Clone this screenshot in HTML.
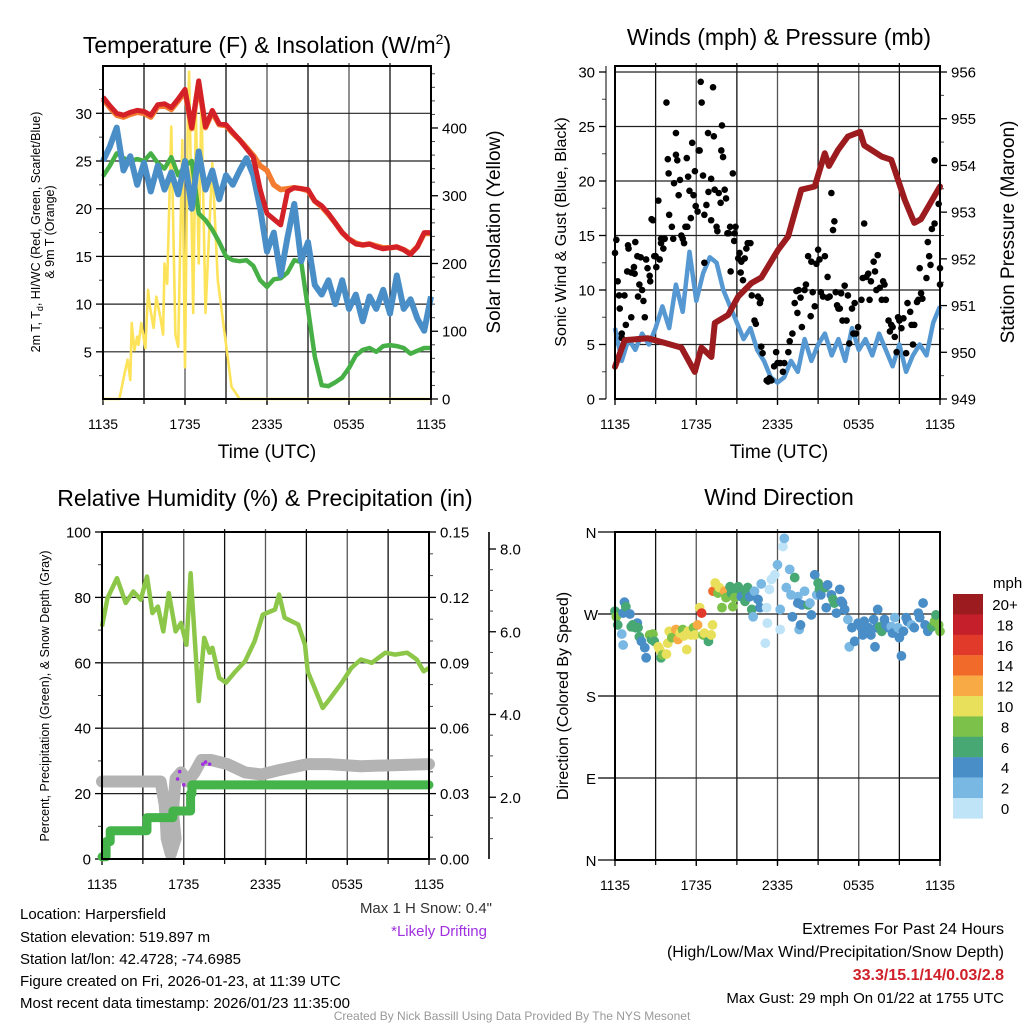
<!DOCTYPE html>
<html><head><meta charset="utf-8"><title>Mesonet Station Summary</title>
<style>
html,body{margin:0;padding:0;background:#fff;}
svg{display:block;font-family:"Liberation Sans",Arial,sans-serif;}
</style></head>
<body>
<svg id="chart" width="1024" height="1024" viewBox="0 0 1024 1024" xmlns="http://www.w3.org/2000/svg">
<rect x="0" y="0" width="1024" height="1024" fill="#fff"/>
<!-- titles -->
<text x="267" y="53" font-size="23" text-anchor="middle">Temperature (F) &amp; Insolation (W/m<tspan font-size="14" dy="-9">2</tspan><tspan dy="9">)</tspan></text>
<text x="779" y="45" font-size="23" text-anchor="middle">Winds (mph) &amp; Pressure (mb)</text>
<text x="265" y="506" font-size="23" text-anchor="middle">Relative Humidity (%) &amp; Precipitation (in)</text>
<text x="779" y="505" font-size="23" text-anchor="middle">Wind Direction</text>
<!-- x axis titles -->
<text x="267" y="458" font-size="19" text-anchor="middle">Time (UTC)</text>
<text x="779" y="458" font-size="19" text-anchor="middle">Time (UTC)</text>
<!-- y axis titles -->
<text transform="translate(40,232) rotate(-90)" font-size="12.5" text-anchor="middle">2m T, T<tspan font-size="9" dy="3">d</tspan><tspan dy="-3">, HI/WC (Red, Green, Scarlet/Blue)</tspan></text>
<text transform="translate(54,232) rotate(-90)" font-size="12.5" text-anchor="middle">&amp; 9m T (Orange)</text>
<text transform="translate(500,232) rotate(-90)" font-size="19" text-anchor="middle">Solar Insolation (Yellow)</text>
<text transform="translate(566,232) rotate(-90)" font-size="16" text-anchor="middle">Sonic Wind &amp; Gust (Blue, Black)</text>
<text transform="translate(1014,232) rotate(-90)" font-size="19" text-anchor="middle">Station Pressure (Maroon)</text>
<text transform="translate(49,696) rotate(-90)" font-size="12.5" text-anchor="middle">Percent, Precipitation (Green), &amp; Snow Depth (Gray)</text>
<text transform="translate(568,696) rotate(-90)" font-size="16" text-anchor="middle">Direction (Colored By Speed)</text>
<g id="layer"></g>
<!-- footer text -->
<g font-size="15">
<text x="20" y="919">Location: Harpersfield</text>
<text x="20" y="942">Station elevation: 519.897 m</text>
<text x="20" y="964">Station lat/lon: 42.4728; -74.6985</text>
<text x="20" y="986">Figure created on Fri, 2026-01-23, at 11:39 UTC</text>
<text x="20" y="1008">Most recent data timestamp: 2026/01/23 11:35:00</text>
</g>
<text x="492" y="913" font-size="15" fill="#333" text-anchor="end">Max 1 H Snow: 0.4"</text>
<text x="487" y="936" font-size="15" fill="#a030e0" text-anchor="end">*Likely Drifting</text>
<text x="1004" y="934" font-size="16" text-anchor="end">Extremes For Past 24 Hours</text>
<text x="1004" y="957" font-size="16" text-anchor="end">(High/Low/Max Wind/Precipitation/Snow Depth)</text>
<text x="1004" y="980" font-size="16" font-weight="bold" fill="#d0202a" text-anchor="end">33.3/15.1/14/0.03/2.8</text>
<text x="1004" y="1003" font-size="15" text-anchor="end">Max Gust: 29 mph On 01/22 at 1755 UTC</text>
<text x="512" y="1020" font-size="12" fill="#999" text-anchor="middle">Created By Nick Bassill Using Data Provided By The NYS Mesonet</text>
</svg>
<script>
// ---------- DATA ----------
const xTickLabels = ["1135","1735","2335","0535","1135"];
const halfHours = [0,0.5,1,1.5,2,2.5,3,3.5,4,4.5,5,5.5,6,6.5,7,7.5,8,8.5,9,9.5,10,10.5,11,11.5,12,12.5,13,13.5,14,14.5,15,15.5,16,16.5,17,17.5,18,18.5,19,19.5,20,20.5,21,21.5,22,22.5,23,23.5,24];
const tempRed = [31.7,30.8,30.0,29.8,30.1,30.3,30.2,29.8,30.9,31.0,30.6,31.5,32.5,28.5,33.4,28.6,30.3,28.9,28.8,28.0,27.2,26.3,25.4,22.0,19.5,18.9,18.3,21.8,22.2,22.1,22.0,20.8,20.3,19.5,18.5,17.5,16.8,16.3,16.2,16.3,16.0,15.8,15.9,16.0,15.7,15.2,16.0,17.5,17.5];
const temp9mOrange = [31.5,30.6,29.8,29.6,29.9,30.1,30.0,29.6,30.7,30.8,30.4,31.3,32.3,28.4,33.2,28.5,30.1,28.8,28.7,27.9,27.2,26.4,25.6,24.5,24.0,22.5,22.0,22.1,22.2,22.1,21.9,20.8,20.2,19.4,18.5,17.5,16.8,16.4,16.2,16.3,16.1,15.9,15.9,16.0,15.7,15.3,16.0,17.4,17.4];
const dewGreen = [23.4,24.5,25.8,25.3,25.0,25.2,25.0,25.8,24.8,24.2,25.4,23.5,24.5,25.0,19.5,18.8,17.8,16.5,15.0,14.6,14.5,14.6,14.0,12.5,11.8,12.6,12.7,13.3,14.6,14.4,9.5,4.5,1.5,1.4,1.8,2.3,3.3,4.6,5.2,5.4,5.0,5.6,5.7,5.6,5.4,4.8,5.1,5.4,5.4];
const windChillBlue = [25.0,26.5,28.5,24.0,25.5,22.5,24.8,21.8,24.5,22.0,23.8,21.5,25.0,20.0,26.0,22.0,24.0,21.0,23.5,22.5,24.0,25.3,23.5,20.0,15.5,17.5,13.0,17.0,20.5,14.5,16.5,12.0,11.0,12.5,10.0,12.5,9.5,11.0,8.2,10.8,9.5,11.5,9.0,13.0,9.5,10.5,8.5,7.2,10.8];
const solarHours = [0,1.2,1.6,1.8,2.0,2.1,2.3,2.5,2.6,2.8,3.1,3.3,3.4,3.7,3.9,4.2,4.4,4.5,4.7,5.0,5.3,5.5,5.8,6.0,6.2,6.3,6.5,6.6,6.8,7.0,7.2,7.5,8.0,8.4,8.9,9.4,10.0,24];
const solarWm2 = [0,0,40,58,28,112,72,92,80,112,75,161,140,105,151,120,95,200,170,402,95,77,382,47,400,483,250,127,426,200,441,127,348,175,97,18,0,0];
const windHours = halfHours;
const sonicWind = [6.5,3.5,5.5,4.5,6.0,5.0,6.5,8.5,6.5,10.5,8.0,13.5,9.0,11.5,13.0,12.5,10.0,8.5,7.0,5.5,6.5,4.5,3.5,2.0,1.5,2.0,3.5,2.5,5.5,3.5,5.0,6.0,4.0,5.5,3.5,6.5,4.5,5.5,4.0,6.0,4.5,3.0,5.0,2.5,4.0,5.0,4.0,7.0,8.5];
const gustHours = [0.0,0.1,0.2,0.3,0.35,0.5,0.5,0.7,0.8,0.9,0.96,1.0,1.2,1.2,1.4,1.45,1.5,1.65,1.7,1.8,1.9,2.0,2.1,2.2,2.3,2.4,2.56,2.6,2.7,2.8,2.9,3.0,3.05,3.2,3.3,3.4,3.4,3.57,3.67,3.8,3.9,3.96,4.0,4.2,4.3,4.36,4.5,4.5,4.6,4.7,4.8,4.9,5.0,5.1,5.2,5.3,5.34,5.4,5.5,5.6,5.7,5.8,5.9,5.96,6.1,6.18,6.25,6.33,6.4,6.5,6.6,6.6,6.75,6.87,6.9,7.1,7.1,7.24,7.3,7.36,7.5,7.56,7.66,7.8,7.85,7.9,7.98,8.1,8.2,8.3,8.4,8.5,8.54,8.7,8.8,8.84,8.9,9.1,9.2,9.28,9.33,9.45,9.58,9.7,9.8,10.0,10.1,10.3,10.4,10.56,10.7,10.76,10.8,10.9,11.2,11.3,11.4,11.55,11.75,11.9,12.0,12.2,12.4,12.5,12.8,12.9,13.1,13.27,13.4,13.47,13.56,13.7,13.8,14.0,14.1,14.26,14.45,14.5,14.6,14.75,14.87,15.0,15.1,15.2,15.36,15.5,15.7,15.7,15.85,15.98,16.1,16.2,16.3,16.4,16.5,16.6,16.7,16.8,16.96,17.1,17.2,17.3,17.5,17.6,17.7,17.8,17.95,18.2,18.3,18.4,18.56,18.7,18.8,18.9,19.1,19.2,19.3,19.4,19.55,19.7,19.8,19.9,20.0,20.2,20.3,20.4,20.5,20.66,20.8,20.9,21.0,21.15,21.3,21.5,21.6,21.8,21.9,22.0,22.1,22.3,22.4,22.5,22.6,22.7,23.0,23.1,23.2,23.3,23.4,23.6,23.6,23.9,24.0,24.0];
const gustMph = [13.4,14.6,10.8,9.5,8.3,6.0,5.6,9.5,6.8,11.7,14.1,13.8,7.5,11.6,12.1,11.5,14.4,13.1,9.4,10.5,13.0,10.0,9.0,7.5,12.8,12.0,11.3,10.8,16.5,16.4,13.1,13.1,12.1,18.2,12.8,14.3,14.7,13.8,14.7,27.2,22.0,20.7,16.9,15.8,14.7,19.8,24.4,22.4,21.9,18.7,20.1,15.0,14.7,14.3,15.8,22.1,15.8,20.4,19.1,16.6,23.5,18.7,20.9,17.7,17.2,22.8,22.8,29.1,27.2,20.5,12.5,16.9,17.8,24.4,19.0,16.4,20.2,28.6,24.1,19.2,15.8,15.4,18.9,18.0,22.8,25.1,22.2,19.2,18.4,15.2,15.2,15.8,11.7,20.7,14.5,15.2,15.8,12.9,13.4,11.6,12.6,10.9,12.9,13.8,14.3,14.3,9.5,7.2,6.9,9.4,8.8,9.1,4.8,4.2,1.7,1.6,1.9,1.7,3.0,4.3,3.3,3.3,2.5,3.3,4.3,5.3,6.0,8.8,9.9,7.9,10.0,9.3,6.6,10.0,10.5,13.1,7.6,12.6,9.8,8.5,12.4,13.7,12.8,9.8,9.4,13.1,9.3,11.2,9.4,18.9,15.5,16.3,9.8,8.6,8.3,8.3,9.7,7.2,10.4,7.2,9.5,5.1,8.3,6.0,8.8,6.0,6.6,9.1,11.1,16.1,11.2,11.5,9.1,10.8,12.6,11.7,10.0,13.2,10.2,9.1,10.8,10.5,9.1,7.2,6.2,6.8,6.6,5.7,4.3,7.5,7.2,6.5,7.4,4.2,8.8,8.0,6.8,5.0,6.8,8.9,9.1,12.0,9.7,9.2,11.1,14.4,13.1,12.3,15.6,16.1,21.9,17.9,12.0,10.5];
const pressHours = [0,0.72,2.44,3.67,4.9,5.89,6.38,7.12,7.37,8.35,9.09,10.07,10.81,12.04,12.78,13.76,14.75,15.49,15.8,16.47,17.2,18.1,18.4,19.7,20.4,21.4,22.1,22.6,24];
const pressureMb = [949.69,950.26,950.3,950.2,950.1,949.58,950.1,949.9,950.63,950.8,951.19,951.48,951.6,952.19,952.48,953.48,953.55,954.26,953.99,954.33,954.62,954.72,954.43,954.19,954.12,953.26,952.77,952.85,953.55];
const rhHours = [0,0.4,1.1,1.74,2.3,2.85,3.3,3.7,4.1,4.5,4.9,5.4,5.8,6.2,6.5,7.1,7.5,7.9,8.1,8.6,9.1,9.7,10.5,11.2,11.8,12.7,13.0,13.4,14.4,14.9,15.1,15.6,16.2,16.6,17.6,18.3,19.0,19.8,20.8,21.5,22.4,23.1,23.6,24.0];
const rhPercent = [71.1,79.8,85.9,78.3,81.8,79.3,86.4,75.2,77.2,69.6,81.3,69.6,72.2,65.5,87.4,48.3,67.6,63.1,64.6,55.4,53.9,56.9,60.5,66.6,74.7,76.3,80.9,73.8,71.7,65.5,57.4,52.3,46.2,48.3,53.9,58.4,61.0,60.0,63.1,62.5,63.1,61.0,57.4,58.4];
const snowHours = [0,4.3,4.6,4.7,4.75,5.05,5.4,5.2,5.4,5.8,6.3,6.8,7.3,8.0,9.2,10.5,11.7,12.9,15.1,16.6,19.0,24.0];
const snowDepthIn = [2.38,2.38,1.82,1.33,1.0,0.63,1.0,1.65,2.45,2.6,2.38,2.6,2.9,2.9,2.8,2.6,2.55,2.65,2.8,2.8,2.75,2.8];
const driftHours = [5.55,5.7,6.0,7.4,7.6,7.9];
const driftDepthIn = [2.44,2.62,2.3,2.8,2.85,2.8];
const precipHours = [0,0.3,0.6,3.0,3.3,5.0,5.2,6.4,6.5,6.6,24];
const precipIn = [0.001,0.008,0.013,0.013,0.019,0.019,0.022,0.022,0.03,0.034,0.034];
const dirHours = [0.0,0.1,0.2,0.6,0.7,0.8,0.5,0.6,1.1,1.2,1.5,1.65,1.3,1.7,1.8,1.95,2.2,2.3,2.56,2.7,2.8,2.9,3.2,3.3,3.4,3.5,3.8,3.9,4.0,4.2,4.5,4.65,4.8,5.0,5.1,5.3,5.4,5.6,5.8,5.9,6.1,6.25,6.4,6.5,6.6,6.9,7.1,7.2,7.24,7.4,7.6,7.7,7.9,8.1,8.2,8.5,8.6,8.7,8.84,9.1,9.2,9.33,9.6,9.7,9.8,9.95,10.1,10.2,10.3,10.56,10.7,10.8,11.1,11.2,11.25,11.4,11.55,11.8,12.0,12.2,12.2,12.4,12.5,12.65,12.9,13.0,13.1,13.27,13.5,13.5,13.6,13.7,13.8,14.0,14.26,14.4,14.5,14.75,14.9,15.0,15.1,15.2,15.5,15.6,15.7,15.98,16.1,16.2,16.35,16.6,16.7,16.8,16.96,17.2,17.3,17.5,17.7,17.95,18.2,18.3,18.4,18.7,18.9,19.1,19.2,19.3,19.4,19.55,19.7,19.9,20.0,20.2,20.4,20.5,20.66,20.9,21.0,21.15,21.3,21.5,21.6,21.9,22.1,22.4,22.5,22.75,22.9,23.1,23.2,23.4,23.6,23.7,23.9,24.0];
const dirDeg = [273,267,258,271,283,278,248,236,270,256,255,260,258,255,245,240,233,222,247,242,248,240,234,231,222,225,226,238,251,244,253,242,249,253,246,231,251,247,255,247,258,277,271,247,249,240,247,258,295,304,293,299,277,295,288,300,293,278,288,300,297,289,284,293,299,289,275,267,295,286,277,303,238,277,260,297,308,313,324,275,253,344,353,299,319,291,267,310,289,282,253,258,280,295,280,282,269,313,291,304,297,291,299,277,302,291,286,282,271,297,284,282,275,264,234,255,240,260,255,247,262,255,247,264,234,255,275,256,251,264,258,255,256,249,266,255,244,224,251,266,262,258,255,271,266,282,258,251,255,256,262,269,258,251];
const dirSpeed = [6,8,6,4,4,6,2,2,4,6,6,4,6,6,6,4,4,4,8,6,8,6,10,10,6,8,10,10,10,8,12,12,10,8,10,10,10,10,8,10,12,10,16,8,10,6,10,10,14,10,8,10,8,12,8,6,6,8,8,6,6,4,6,6,6,4,6,2,2,4,4,2,0,0,0,0,0,0,2,2,0,0,2,2,2,2,4,6,2,4,2,4,4,2,6,2,4,4,2,6,6,4,6,4,4,4,6,6,4,4,4,4,4,2,2,4,4,4,4,4,4,4,4,4,4,4,4,6,6,4,4,4,2,4,2,2,4,4,4,4,4,2,4,4,4,4,4,4,4,6,8,6,8,8,4];
const speedBins = ["20+","18","16","14","12","10","8","6","4","2","0"];
const speedColors = ["#9b1b1f","#c41f2a","#e23a2a","#f26a2a","#f8aa45","#e8e05a","#7cc24a","#48a873","#4a8ec8","#7ab8e4","#bfe3f7"];

// ---------- HELPERS ----------
const NS = "http://www.w3.org/2000/svg";
const layer = document.getElementById('layer');
function mk(tag, attrs, parent){
  const e = document.createElementNS(NS, tag);
  for (const k in attrs) e.setAttribute(k, attrs[k]);
  (parent || layer).appendChild(e);
  return e;
}
function txt(x, y, s, size, anchor, parent, fill){
  const t = mk('text', {x:x, y:y, 'font-size':size, 'text-anchor':anchor || 'start', fill: fill || '#000'}, parent);
  t.textContent = s;
  return t;
}
function linScale(d0, d1, r0, r1){ return v => r0 + (v - d0) / (d1 - d0) * (r1 - r0); }
function pathFrom(xs, ys, sx, sy){
  let d = '';
  for (let i = 0; i < xs.length; i++) d += (i ? 'L' : 'M') + sx(xs[i]).toFixed(1) + ',' + sy(ys[i]).toFixed(1);
  return d;
}
function stepPath(xs, ys, sx, sy){
  let d = 'M' + sx(xs[0]).toFixed(1) + ',' + sy(ys[0]).toFixed(1);
  for (let i = 1; i < xs.length; i++) d += 'L' + sx(xs[i]).toFixed(1) + ',' + sy(ys[i - 1]).toFixed(1) + 'L' + sx(xs[i]).toFixed(1) + ',' + sy(ys[i]).toFixed(1);
  return d;
}
function frame(x0, x1, y0, y1, name){
  const g = mk('g', {});
  
  
  const sx = linScale(0, 24, x0, x1);
  for (let h = 3; h < 24; h += 3) {
    const ln = mk('line', {x1:sx(h), x2:sx(h), y1:y0 - 3, y2:y1 + 5, stroke: (h % 6 === 0) ? '#555' : '#111', 'stroke-width':1.3}, g);
    
    
  }
  const xl = mk('g', {});
  
  
  xTickLabels.forEach((s, i) => {
    txt(sx(i * 6), y1 + 30, s, 14, 'middle', xl);
    mk('line', {x1:sx(i * 6), x2:sx(i * 6), y1:y1, y2:y1 + 6, stroke:'#000', 'stroke-width':1.3}, xl);
  });
  return sx;
}
function border(x0, x1, y0, y1, name){
  const r = mk('rect', {x:x0, y:y0, width:x1 - x0, height:y1 - y0, fill:'none', stroke:'#000', 'stroke-width':2});
  
  
}
function hgrid(ys, x0, x1, g){
  ys.forEach(y => mk('line', {x1:x0, x2:x1, y1:y, y2:y, stroke:'#222', 'stroke-width':1.2}, g));
}
function yAxis(ticks, labels, scale, x, side, g, minor){
  const dir = side === 'left' ? -1 : 1;
  if (minor) minor.forEach(v => mk('line', {x1:x, x2:x + dir * 4, y1:scale(v), y2:scale(v), stroke:'#444', 'stroke-width':1}, g));
  ticks.forEach((v, i) => {
    mk('line', {x1:x, x2:x + dir * 7, y1:scale(v), y2:scale(v), stroke:'#000', 'stroke-width':1.3}, g);
    if (labels[i] !== '') txt(x + dir * 11, scale(v) + 5.5, labels[i], 15, side === 'left' ? 'end' : 'start', g);
  });
}

// ---------- PANEL 1: temperature & insolation ----------
(function(){
  const x0 = 103, x1 = 431, y0 = 66, y1 = 399;
  const sx = frame(x0, x1, y0, y1, 'temperature');
  const sy = linScale(0, 35, 399.5, 65.6);
  const sr = linScale(0, 490, 399, 67);
  const g = mk('g', {});
  
  
  hgrid([5,10,15,20,25,30].map(sy), x0, x1, g);
  yAxis([5,10,15,20,25,30], ['5','10','15','20','25','30'], sy, x0, 'left', g, [2.5,7.5,12.5,17.5,22.5,27.5,32.5]);
  yAxis([0,100,200,300,400], ['0','100','200','300','400'], sr, x1, 'right', g, [20,40,60,80,120,140,160,180,220,240,260,280,320,340,360,380,420,440,460,480]);
  const s1 = mk('path', {d:pathFrom(solarHours, solarWm2, sx, sr), fill:'none', stroke:'#fde35a', 'stroke-width':2.6, 'stroke-linejoin':'round'});
  
  
  const s2 = mk('path', {d:pathFrom(halfHours, dewGreen, sx, sy), fill:'none', stroke:'#46b046', 'stroke-width':4.5, 'stroke-linejoin':'round'});
  
  
  const s3 = mk('path', {d:pathFrom(halfHours, windChillBlue, sx, sy), fill:'none', stroke:'#4a8ec8', 'stroke-width':6, 'stroke-linejoin':'round'});
  
  
  const s4 = mk('path', {d:pathFrom(halfHours, temp9mOrange, sx, sy), fill:'none', stroke:'#f47c30', 'stroke-width':5.5, 'stroke-linejoin':'round'});
  
  
  const s5 = mk('path', {d:pathFrom(halfHours, tempRed, sx, sy), fill:'none', stroke:'#d42027', 'stroke-width':5, 'stroke-linejoin':'round'});
  
  
  border(x0, x1, y0, y1, 'temperature');
})();

// ---------- PANEL 2: winds & pressure ----------
(function(){
  const x0 = 615, x1 = 940, y0 = 66, y1 = 399;
  const sx = frame(x0, x1, y0, y1, 'winds');
  const sy = linScale(0, 30, 399, 72);
  const sp = linScale(949, 956, 399, 72);
  const g = mk('g', {});
  
  
  hgrid([5,10,15,20,25].map(sy), x0, x1, g);
  mk('line', {x1:x0, x2:x1, y1:sy(30), y2:sy(30), stroke:'#222', 'stroke-width':1.2}, g);
  yAxis([0,5,10,15,20,25,30], ['0','5','10','15','20','25','30'], sy, x0 - 9, 'left', g, [2.5,7.5,12.5,17.5,22.5,27.5]);
  yAxis([949,950,951,952,953,954,955,956], ['949','950','951','952','953','954','955','956'], sp, x1, 'right', g, [949.5,950.5,951.5,952.5,953.5,954.5,955.5]);
  const b = mk('path', {d:pathFrom(windHours, sonicWind, sx, sy), fill:'none', stroke:'#5698d2', 'stroke-width':4.5, 'stroke-linejoin':'round'});
  
  
  const gd = mk('g', {fill:'#000'});
  
  
  gustHours.forEach((h, i) => {
    const c = mk('circle', {cx:sx(h), cy:sy(gustMph[i]), r:3.3}, gd);
    
    
  });
  const p = mk('path', {d:pathFrom(pressHours, pressureMb, sx, sp), fill:'none', stroke:'#9b1b1e', 'stroke-width':6, 'stroke-linejoin':'round', 'stroke-linecap':'round'});
  
  
  mk('line', {x1:x0 - 9, x2:x0 - 9, y1:y0, y2:y1, stroke:'#000', 'stroke-width':1}, g);
  border(x0, x1, y0, y1, 'winds');
})();

// ---------- PANEL 3: humidity, precipitation & snow ----------
(function(){
  const x0 = 102, x1 = 429, y0 = 532, y1 = 859;
  const sx = frame(x0, x1, y0, y1, 'humidity');
  const sy = linScale(0, 100, 859, 532);
  const sq = linScale(0, 0.15, 859, 532);
  const sd = linScale(0, 8, 880, 549);
  const g = mk('g', {});
  
  
  hgrid([20,40,60,80].map(sy), x0, x1, g);
  yAxis([0,20,40,60,80,100], ['0','20','40','60','80','100'], sy, x0, 'left', g, [10,30,50,70,90]);
  yAxis([0,0.03,0.06,0.09,0.12,0.15], ['0.00','0.03','0.06','0.09','0.12','0.15'], sq, x1, 'right', g, [0.01,0.02,0.04,0.05,0.07,0.08,0.1,0.11,0.13,0.14]);
  const fx = 489;
  mk('line', {x1:fx, x2:fx, y1:532, y2:y1, stroke:'#000', 'stroke-width':1.6}, g);
  yAxis([2,4,6,8], ['2.0','4.0','6.0','8.0'], sd, fx, 'right', g, [1,1.5,2.5,3,3.5,4.5,5,5.5,6.5,7,7.5]);
  const rh = mk('path', {d:pathFrom(rhHours, rhPercent, sx, sy), fill:'none', stroke:'#8dc74a', 'stroke-width':4.5, 'stroke-linejoin':'round'});
  
  
  const sn = mk('path', {d:pathFrom(snowHours, snowDepthIn, sx, sd), fill:'none', stroke:'#b3b3b3', 'stroke-width':12, 'stroke-linejoin':'round', 'stroke-linecap':'round'});
  
  
  const dg = mk('g', {fill:'#a030e0'});
  
  
  driftHours.forEach((h, i) => {
    const c = mk('circle', {cx:sx(h), cy:sd(driftDepthIn[i]), r:1.8}, dg);
    
    
  });
  const pr = mk('path', {d:stepPath(precipHours, precipIn, sx, sq), fill:'none', stroke:'#44b34a', 'stroke-width':9, 'stroke-linejoin':'round', 'stroke-linecap':'round'});
  
  
  border(x0, x1, y0, y1, 'humidity');
})();

// ---------- PANEL 4: wind direction ----------
(function(){
  const x0 = 615, x1 = 940, y0 = 532, y1 = 860;
  const sx = frame(x0, x1, y0, y1, 'direction');
  const sy = linScale(0, 360, 860, 532);
  const g = mk('g', {});
  
  
  hgrid([90,180,270,360].map(sy), x0, x1, g);
  const dirTicks = [0,90,180,270,360];
  const dirLabels = ['N','E','S','W','N'];
  dirTicks.forEach((v, i) => {
    mk('line', {x1:x0 - 17, x2:x0, y1:sy(v), y2:sy(v), stroke:'#000', 'stroke-width':1.3}, g);
    txt(591, sy(v) + 6, dirLabels[i], 15, 'middle', g);
  });
  const dg = mk('g', {});
  
  
  dirHours.forEach((h, i) => {
    const sp = dirSpeed[i];
    const idx = Math.max(0, 10 - Math.min(10, Math.round(sp / 2)));
    const c = mk('circle', {cx:sx(h), cy:sy(dirDeg[i]), r:4.9, fill:speedColors[idx]}, dg);
    
    
  });
  mk('line', {x1:x0, x2:x0, y1:y0, y2:y1, stroke:'#000', 'stroke-width':2}, g);
  border(x0, x1, y0, y1, 'direction');
  // colorbar legend
  const lg = mk('g', {});
  
  
  txt(993, 588, 'mph', 15, 'start', lg);
  speedBins.forEach((s, i) => {
    const r = mk('rect', {x:953, y:594 + i * 20.4, width:30, height:20.6, fill:speedColors[i]}, lg);
    
    
    txt(1005, 594 + i * 20.4 + 16, s, 15, 'middle', lg);
  });
})();
</script>
</body></html>
